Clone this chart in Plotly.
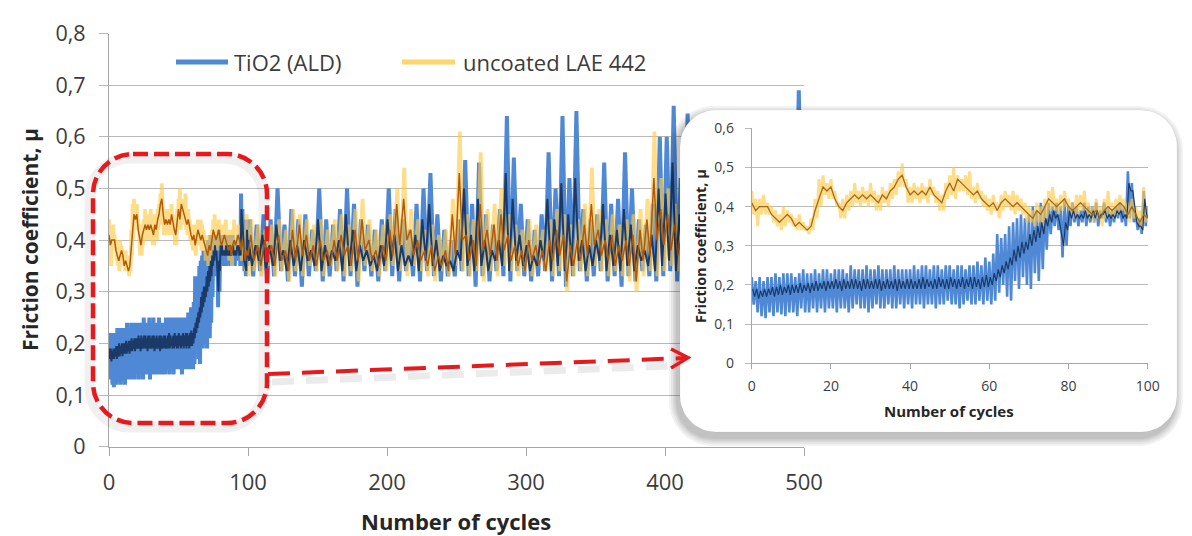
import numpy as np
import plotly.graph_objects as go

W, H = 1192, 536

# ---------------- data ----------------
# Segment A: cycles 0..100, one value per cycle (used by main chart and inset)
cycles_a = list(range(0, 101))
tio2_hi_a = [0.22,0.21,0.22,0.21,0.22,0.22,0.23,0.22,0.23,0.23,
             0.23,0.22,0.23,0.24,0.23,0.23,0.24,0.23,0.24,0.24,
             0.23,0.24,0.24,0.24,0.23,0.25,0.24,0.24,0.24,0.25,
             0.24,0.24,0.25,0.24,0.24,0.24,0.25,0.24,0.24,0.24,
             0.24,0.25,0.24,0.25,0.25,0.24,0.25,0.25,0.24,0.25,
             0.25,0.24,0.25,0.25,0.24,0.25,0.25,0.26,0.25,0.27,
             0.26,0.28,0.33,0.32,0.33,0.35,0.36,0.37,0.38,0.37,
             0.38,0.40,0.39,0.41,0.40,0.41,0.40,0.41,0.40,0.42,
             0.40,0.41,0.40,0.39,0.41,0.40,0.40,0.41,0.39,0.41,
             0.40,0.39,0.40,0.41,0.40,0.49,0.46,0.38,0.37,0.44,0.40]
tio2_lo_a = [0.15,0.13,0.12,0.115,0.13,0.12,0.13,0.125,0.12,0.13,
             0.13,0.12,0.14,0.13,0.13,0.14,0.13,0.14,0.13,0.14,
             0.14,0.13,0.14,0.14,0.13,0.14,0.15,0.14,0.14,0.13,
             0.14,0.15,0.14,0.14,0.15,0.14,0.14,0.15,0.14,0.15,
             0.14,0.15,0.15,0.14,0.15,0.15,0.14,0.15,0.15,0.16,
             0.15,0.15,0.14,0.15,0.16,0.15,0.15,0.16,0.15,0.16,
             0.15,0.16,0.18,0.20,0.17,0.16,0.21,0.19,0.22,0.20,
             0.19,0.23,0.21,0.24,0.29,0.33,0.35,0.34,0.27,0.30,
             0.35,0.36,0.35,0.36,0.35,0.36,0.36,0.35,0.37,0.36,
             0.35,0.36,0.37,0.36,0.35,0.37,0.36,0.34,0.33,0.35,0.36]
tio2_avg_hi_a = [0.19,0.19,0.185,0.19,0.19,0.195,0.195,0.20,0.195,0.20,
                 0.20,0.20,0.205,0.20,0.205,0.205,0.21,0.205,0.21,0.21,
                 0.21,0.215,0.21,0.215,0.21,0.215,0.215,0.21,0.215,0.215,
                 0.21,0.215,0.215,0.21,0.215,0.21,0.215,0.215,0.21,0.215,
                 0.215,0.21,0.215,0.22,0.215,0.21,0.215,0.22,0.215,0.215,
                 0.22,0.215,0.215,0.22,0.215,0.22,0.22,0.215,0.22,0.225,
                 0.22,0.23,0.24,0.25,0.26,0.27,0.29,0.30,0.31,0.31,
                 0.33,0.34,0.35,0.36,0.37,0.38,0.39,0.38,0.33,0.36,
                 0.39,0.39,0.38,0.38,0.39,0.38,0.39,0.39,0.38,0.39,
                 0.38,0.38,0.39,0.39,0.38,0.46,0.44,0.36,0.35,0.42,0.37]
tio2_avg_lo_a = [0.17,0.165,0.17,0.17,0.175,0.17,0.175,0.175,0.18,0.175,
                 0.18,0.18,0.18,0.185,0.18,0.185,0.185,0.19,0.185,0.19,
                 0.19,0.19,0.185,0.19,0.19,0.19,0.19,0.185,0.19,0.19,
                 0.19,0.19,0.185,0.19,0.19,0.19,0.185,0.19,0.19,0.19,
                 0.19,0.19,0.19,0.19,0.195,0.19,0.19,0.195,0.19,0.19,
                 0.195,0.19,0.195,0.19,0.195,0.19,0.195,0.19,0.195,0.195,
                 0.20,0.21,0.22,0.23,0.24,0.25,0.26,0.27,0.28,0.29,
                 0.30,0.31,0.32,0.33,0.35,0.36,0.37,0.36,0.30,0.34,
                 0.37,0.37,0.37,0.37,0.37,0.37,0.37,0.37,0.38,0.37,
                 0.37,0.37,0.38,0.37,0.37,0.44,0.40,0.35,0.34,0.38,0.36]
lae_hi_a = [0.44,0.42,0.42,0.43,0.41,0.40,0.39,0.38,0.40,0.39,
            0.38,0.37,0.38,0.36,0.35,0.37,0.42,0.47,0.48,0.46,
            0.47,0.44,0.41,0.42,0.43,0.44,0.46,0.44,0.45,0.44,
            0.46,0.44,0.43,0.45,0.44,0.46,0.47,0.49,0.51,0.47,
            0.45,0.46,0.45,0.46,0.45,0.47,0.45,0.44,0.43,0.46,
            0.48,0.50,0.48,0.47,0.48,0.49,0.45,0.46,0.44,0.43,
            0.42,0.43,0.41,0.43,0.44,0.43,0.44,0.43,0.42,0.41,
            0.40,0.39,0.41,0.40,0.42,0.44,0.45,0.42,0.43,0.44,
            0.42,0.41,0.43,0.43,0.44,0.41,0.40,0.42,0.40,0.42,
            0.44,0.41,0.42,0.43,0.42,0.41,0.42,0.40,0.39,0.45,0.40]
lae_lo_a = [0.38,0.35,0.38,0.38,0.38,0.36,0.35,0.34,0.35,0.36,
            0.35,0.34,0.34,0.34,0.33,0.34,0.37,0.40,0.43,0.42,
            0.42,0.40,0.37,0.37,0.39,0.40,0.41,0.40,0.41,0.40,
            0.41,0.39,0.39,0.41,0.40,0.42,0.43,0.45,0.45,0.41,
            0.41,0.42,0.41,0.42,0.41,0.43,0.41,0.39,0.39,0.42,
            0.43,0.42,0.44,0.44,0.43,0.42,0.41,0.42,0.40,0.39,
            0.38,0.39,0.37,0.39,0.40,0.39,0.38,0.39,0.38,0.36,
            0.36,0.35,0.36,0.35,0.37,0.39,0.39,0.38,0.39,0.40,
            0.38,0.37,0.38,0.39,0.38,0.37,0.36,0.37,0.35,0.37,
            0.38,0.37,0.38,0.39,0.38,0.36,0.37,0.36,0.34,0.36,0.33]
lae_avg_a = [0.41,0.39,0.40,0.40,0.40,0.38,0.37,0.36,0.37,0.38,
             0.37,0.35,0.36,0.35,0.34,0.35,0.39,0.42,0.45,0.44,
             0.45,0.42,0.40,0.39,0.41,0.42,0.43,0.42,0.43,0.42,
             0.43,0.42,0.41,0.43,0.42,0.44,0.45,0.47,0.48,0.45,
             0.43,0.44,0.43,0.44,0.43,0.45,0.43,0.42,0.41,0.44,
             0.46,0.44,0.47,0.46,0.45,0.44,0.43,0.44,0.42,0.41,
             0.40,0.41,0.39,0.41,0.42,0.41,0.40,0.41,0.40,0.39,
             0.38,0.37,0.39,0.38,0.40,0.42,0.41,0.40,0.41,0.42,
             0.40,0.39,0.40,0.41,0.40,0.39,0.38,0.39,0.37,0.39,
             0.40,0.39,0.40,0.41,0.40,0.38,0.40,0.38,0.36,0.38,0.37]

# Segment B: cycles 100..500 in 5-cycle bins (max / min inside each bin)
bins_b = list(range(100, 500, 5))
tio2_hi_b = [0.44,0.43,0.45,0.44,0.50,0.43,0.46,0.44,0.45,0.42,
             0.50,0.44,0.43,0.46,0.50,0.47,0.44,0.43,0.42,0.44,
             0.50,0.46,0.44,0.42,0.47,0.50,0.53,0.45,0.42,0.40,
             0.44,0.555,0.47,0.55,0.45,0.43,0.46,0.64,0.56,0.47,
             0.44,0.42,0.45,0.57,0.50,0.64,0.52,0.65,0.46,0.44,
             0.45,0.55,0.47,0.48,0.57,0.50,0.44,0.43,0.47,0.60,
             0.60,0.66,0.52,0.645,0.50,0.48,0.52,0.47,0.50,0.46,
             0.55,0.48,0.47,0.52,0.46,0.50,0.47,0.45,0.50,0.69]
tio2_lo_b = [0.33,0.34,0.32,0.33,0.34,0.32,0.33,0.31,0.33,0.34,
             0.32,0.33,0.34,0.32,0.33,0.31,0.34,0.33,0.32,0.34,
             0.33,0.32,0.34,0.33,0.32,0.34,0.33,0.32,0.33,0.33,
             0.34,0.33,0.31,0.33,0.32,0.34,0.33,0.32,0.34,0.33,
             0.32,0.33,0.34,0.32,0.33,0.31,0.33,0.34,0.32,0.33,
             0.34,0.32,0.33,0.31,0.33,0.32,0.34,0.33,0.32,0.33,
             0.34,0.32,0.33,0.33,0.32,0.34,0.33,0.32,0.33,0.34,
             0.32,0.33,0.34,0.32,0.33,0.33,0.32,0.34,0.33,0.32]
tio2_avg_hi_b = [0.40,0.39,0.41,0.39,0.43,0.38,0.40,0.39,0.40,0.38,
                 0.44,0.39,0.38,0.40,0.45,0.42,0.39,0.38,0.37,0.39,
                 0.44,0.41,0.39,0.37,0.41,0.44,0.47,0.40,0.37,0.36,
                 0.38,0.50,0.41,0.48,0.40,0.38,0.40,0.53,0.48,0.41,
                 0.39,0.37,0.40,0.48,0.44,0.51,0.45,0.52,0.40,0.39,
                 0.40,0.47,0.41,0.42,0.46,0.43,0.39,0.38,0.41,0.50,
                 0.49,0.55,0.45,0.52,0.44,0.42,0.45,0.41,0.43,0.40,
                 0.46,0.42,0.41,0.44,0.40,0.43,0.41,0.40,0.43,0.55]
tio2_avg_lo_b = [0.35,0.36,0.34,0.35,0.36,0.34,0.35,0.34,0.36,0.35,
                 0.34,0.35,0.36,0.34,0.35,0.34,0.36,0.35,0.34,0.35,
                 0.36,0.34,0.35,0.35,0.34,0.36,0.35,0.34,0.35,0.34,
                 0.36,0.35,0.34,0.35,0.34,0.36,0.35,0.34,0.36,0.35,
                 0.34,0.35,0.36,0.34,0.35,0.34,0.35,0.36,0.34,0.35,
                 0.36,0.34,0.35,0.34,0.35,0.34,0.36,0.35,0.34,0.35,
                 0.36,0.34,0.35,0.35,0.34,0.36,0.35,0.34,0.35,0.36,
                 0.34,0.35,0.36,0.34,0.35,0.35,0.34,0.36,0.35,0.34]
lae_hi_b = [0.44,0.43,0.42,0.43,0.44,0.42,0.46,0.45,0.44,0.43,
            0.44,0.42,0.44,0.45,0.43,0.46,0.48,0.44,0.42,0.43,
            0.45,0.50,0.54,0.46,0.44,0.42,0.43,0.41,0.42,0.48,
            0.61,0.45,0.44,0.57,0.46,0.47,0.50,0.45,0.43,0.42,
            0.44,0.43,0.42,0.44,0.46,0.45,0.43,0.44,0.47,0.54,
            0.46,0.44,0.45,0.43,0.44,0.45,0.46,0.48,0.61,0.52,
            0.50,0.47,0.45,0.46,0.44,0.47,0.45,0.44,0.46,0.45,
            0.44,0.47,0.45,0.44,0.46,0.45,0.44,0.46,0.45,0.44]
lae_lo_b = [0.34,0.33,0.35,0.33,0.34,0.32,0.34,0.33,0.35,0.34,
            0.33,0.35,0.34,0.33,0.34,0.32,0.35,0.34,0.33,0.34,
            0.35,0.34,0.33,0.35,0.34,0.33,0.32,0.34,0.33,0.35,
            0.34,0.33,0.34,0.32,0.34,0.33,0.35,0.34,0.33,0.34,
            0.33,0.35,0.34,0.33,0.34,0.30,0.33,0.34,0.33,0.35,
            0.34,0.33,0.34,0.33,0.32,0.30,0.33,0.34,0.33,0.34,
            0.35,0.34,0.33,0.34,0.33,0.35,0.34,0.33,0.34,0.33,
            0.35,0.34,0.33,0.34,0.33,0.34,0.35,0.33,0.34,0.33]
lae_avg_hi_b = [0.41,0.39,0.40,0.39,0.41,0.38,0.42,0.43,0.41,0.39,
                0.40,0.38,0.40,0.41,0.39,0.42,0.44,0.40,0.38,0.39,
                0.42,0.47,0.48,0.42,0.40,0.38,0.39,0.37,0.38,0.45,
                0.53,0.41,0.40,0.47,0.42,0.43,0.45,0.41,0.39,0.38,
                0.40,0.39,0.38,0.40,0.42,0.41,0.39,0.40,0.43,0.47,
                0.42,0.40,0.41,0.39,0.40,0.41,0.42,0.44,0.52,0.46,
                0.45,0.43,0.41,0.42,0.40,0.43,0.41,0.40,0.42,0.41,
                0.40,0.43,0.41,0.40,0.42,0.41,0.40,0.42,0.41,0.40]
lae_avg_lo_b = [0.36,0.35,0.37,0.35,0.36,0.34,0.36,0.37,0.36,0.35,
                0.36,0.35,0.36,0.37,0.35,0.36,0.38,0.36,0.35,0.36,
                0.37,0.39,0.40,0.37,0.36,0.35,0.34,0.35,0.34,0.37,
                0.40,0.36,0.35,0.38,0.37,0.36,0.38,0.36,0.35,0.34,
                0.36,0.35,0.34,0.36,0.37,0.32,0.35,0.36,0.37,0.39,
                0.37,0.36,0.35,0.36,0.35,0.32,0.36,0.37,0.40,0.39,
                0.38,0.37,0.36,0.37,0.36,0.37,0.36,0.35,0.36,0.37,
                0.36,0.37,0.36,0.35,0.37,0.36,0.35,0.36,0.37,0.36]

main_xticks = [0, 100, 200, 300, 400, 500]
inset_xticks = [0, 20, 40, 60, 80, 100]
series_names = ["TiO2 (ALD)", "uncoated LAE 442"]

# ---------------- styling ----------------
BLUE = "#4f88d4"
DARK = "#1b3a68"
YEL = "rgba(255,202,75,0.66)"
YEL_LEG = "rgb(255,214,110)"
BROWN = "#b25a08"
BROWN_IN = "#a4691c"
GRID = "#b9b9b9"
AXC = "#a6a6a6"
TXT = "#3c3c3c"
FONT = "Open Sans"
RED = "#e8191c"


def zigzag(xs, his, los, off_hi, off_lo):
    x, y = [], []
    for c, h, l in zip(xs, his, los):
        x += [c + off_hi, c + off_lo]
        y += [h, l]
    return x, y


xa_raw, ya_raw = zigzag(cycles_a, tio2_hi_a, tio2_lo_a, 0.0, 0.5)
xb_raw, yb_raw = zigzag(bins_b, tio2_hi_b, tio2_lo_b, 1.25, 3.75)
xa_avg, ya_avg = zigzag(cycles_a, tio2_avg_hi_a, tio2_avg_lo_a, 0.25, 0.75)
xb_avg, yb_avg = zigzag(bins_b, tio2_avg_hi_b, tio2_avg_lo_b, 0.4, 2.9)
xa_lae, ya_lae = zigzag(cycles_a, lae_hi_a, lae_lo_a, 0.0, 0.5)
xb_lae, yb_lae = zigzag(bins_b, lae_hi_b, lae_lo_b, 2.4, 4.6)
xb_lav, yb_lav = zigzag(bins_b, lae_avg_hi_b, lae_avg_lo_b, 2.0, 4.2)

fig = go.Figure()

# ---- main chart ----
fig.add_trace(go.Scatter(x=xa_raw + xb_raw, y=ya_raw + yb_raw, mode="lines",
                         line=dict(color=BLUE, width=4.0), name=series_names[0],
                         xaxis="x", yaxis="y", showlegend=False))
fig.add_trace(go.Scatter(x=xa_lae + xb_lae, y=ya_lae + yb_lae, mode="lines",
                         line=dict(color=YEL, width=3.8), name=series_names[1],
                         xaxis="x", yaxis="y", showlegend=False))
fig.add_trace(go.Scatter(x=xa_avg + xb_avg, y=ya_avg + yb_avg, mode="lines",
                         line=dict(color=DARK, width=2.0), xaxis="x", yaxis="y",
                         showlegend=False))
fig.add_trace(go.Scatter(x=cycles_a + xb_lav, y=lae_avg_a + yb_lav, mode="lines",
                         line=dict(color=BROWN, width=1.5), xaxis="x", yaxis="y",
                         showlegend=False))


# ---- inset box (white rounded panel with shadow), drawn in pixel space ----
def rounded_rect(x0, y0, x1, y1, r, n=14):
    xs, ys = [], []
    corners = [(x1 - r, y0 + r, -90, 0), (x1 - r, y1 - r, 0, 90),
               (x0 + r, y1 - r, 90, 180), (x0 + r, y0 + r, 180, 270)]
    for cx, cy, a0, a1 in corners:
        for t in np.linspace(np.radians(a0), np.radians(a1), n):
            xs.append(cx + r * np.cos(t))
            ys.append(cy + r * np.sin(t))
    xs.append(xs[0]); ys.append(ys[0])
    return xs, ys


BX0, BY0, BX1, BY1, BR = 680, 110, 1177, 432, 36
for grow in [8, 6, 4, 2.5, 1]:
    sx, sy = rounded_rect(BX0 - 3 - grow, BY0 + 4 - grow, BX1 - 2 + grow, BY1 + 6 + grow, BR + grow)
    fig.add_trace(go.Scatter(x=sx, y=sy, mode="lines", fill="toself",
                             fillcolor="rgba(0,0,0,0.05)", line=dict(width=0),
                             xaxis="x2", yaxis="y2", showlegend=False, hoverinfo="skip"))
bx, by = rounded_rect(BX0, BY0, BX1, BY1, BR)
fig.add_trace(go.Scatter(x=bx, y=by, mode="lines", fill="toself", fillcolor="white",
                         line=dict(width=0.8, color="rgba(0,0,0,0.05)"),
                         xaxis="x2", yaxis="y2", showlegend=False, hoverinfo="skip"))

# ---- inset chart ----
fig.add_trace(go.Scatter(x=xa_raw, y=ya_raw, mode="lines", line=dict(color=BLUE, width=2.6),
                         xaxis="x3", yaxis="y3", showlegend=False))
fig.add_trace(go.Scatter(x=xa_lae, y=ya_lae, mode="lines", line=dict(color=YEL, width=3.0),
                         xaxis="x3", yaxis="y3", showlegend=False))
fig.add_trace(go.Scatter(x=xa_avg, y=ya_avg, mode="lines", line=dict(color=DARK, width=1.2),
                         xaxis="x3", yaxis="y3", showlegend=False))
fig.add_trace(go.Scatter(x=cycles_a, y=lae_avg_a, mode="lines", line=dict(color=BROWN_IN, width=1.3),
                         xaxis="x3", yaxis="y3", showlegend=False))


def PX(x):
    return x / W


def PY(y):
    return 1 - y / H


def P(x, y):
    return f"{x / W:.5f},{1 - y / H:.5f}"


def rr_path(x0, y0, x1, y1, r):
    k = 0.5523 * r
    return (f"M {P(x0 + r, y0)} L {P(x1 - r, y0)} C {P(x1 - r + k, y0)} {P(x1, y0 + r - k)} {P(x1, y0 + r)} "
            f"L {P(x1, y1 - r)} C {P(x1, y1 - r + k)} {P(x1 - r + k, y1)} {P(x1 - r, y1)} "
            f"L {P(x0 + r, y1)} C {P(x0 + r - k, y1)} {P(x0, y1 - r + k)} {P(x0, y1 - r)} "
            f"L {P(x0, y0 + r)} C {P(x0, y0 + r - k)} {P(x0 + r - k, y0)} {P(x0 + r, y0)} Z")


shapes = []
# legend samples
shapes.append(dict(type="line", xref="paper", yref="paper", x0=PX(176), x1=PX(228), y0=PY(62), y1=PY(62),
                   line=dict(color=BLUE, width=4.8), layer="above"))
shapes.append(dict(type="line", xref="paper", yref="paper", x0=PX(402), x1=PX(455), y0=PY(62), y1=PY(62),
                   line=dict(color=YEL_LEG, width=4.8), layer="above"))
# red dashed highlight with soft shadow
shapes.append(dict(type="path", xref="paper", yref="paper", path=rr_path(90, 158, 264, 427, 40),
                   line=dict(color="rgba(0,0,0,0.06)", width=11), layer="above"))
shapes.append(dict(type="path", xref="paper", yref="paper", path=rr_path(93, 154, 267, 423, 40),
                   line=dict(color=RED, width=4.5, dash="15px,6px"), layer="above"))
# arrow shadow, shaft and head
shapes.append(dict(type="line", xref="paper", yref="paper", x0=PX(272), y0=PY(382), x1=PX(668), y1=PY(366),
                   line=dict(color="rgba(0,0,0,0.08)", width=7, dash="22px,12px"), layer="above"))
shapes.append(dict(type="line", xref="paper", yref="paper", x0=PX(268), y0=PY(374), x1=PX(686), y1=PY(358),
                   line=dict(color=RED, width=4, dash="22px,12px"), layer="above"))
shapes.append(dict(type="path", xref="paper", yref="paper",
                   path=f"M {P(671, 349)} L {P(688, 357.7)} L {P(671, 368)}",
                   line=dict(color=RED, width=3.5), layer="above"))

annotations = [
    dict(text=series_names[0], x=PX(232), y=PY(62), xref="paper", yref="paper", xanchor="left",
         yanchor="middle", showarrow=False, font=dict(family=FONT, size=22, color=TXT)),
    dict(text=series_names[1], x=PX(461), y=PY(62), xref="paper", yref="paper", xanchor="left",
         yanchor="middle", showarrow=False, font=dict(family=FONT, size=22, color=TXT)),
    dict(text="Number of cycles", x=PX(456), y=PY(521), xref="paper", yref="paper", xanchor="center",
         yanchor="middle", showarrow=False, font=dict(family=FONT, size=22, color="#262626", weight=700)),
    dict(text="Friction coefficient, µ", x=PX(30), y=PY(240), xref="paper", yref="paper", xanchor="center",
         yanchor="middle", textangle=-90, showarrow=False,
         font=dict(family=FONT, size=21, color="#262626", weight=700)),
    dict(text="Number of cycles", x=PX(949), y=PY(411), xref="paper", yref="paper", xanchor="center",
         yanchor="middle", showarrow=False, font=dict(family=FONT, size=15, color="#262626", weight=700)),
    dict(text="Friction coefficient, µ", x=PX(701), y=PY(246), xref="paper", yref="paper", xanchor="center",
         yanchor="middle", textangle=-90, showarrow=False,
         font=dict(family=FONT, size=14.5, color="#262626", weight=700)),
]

common = dict(automargin=False, zeroline=False)
fig.update_layout(
    width=W, height=H, margin=dict(l=0, r=0, t=0, b=0, pad=0, autoexpand=False), autosize=False,
    paper_bgcolor="white", plot_bgcolor="rgba(0,0,0,0)",
    separators=", ", showlegend=False, hovermode=False,
    font=dict(family=FONT, color=TXT),
    shapes=shapes, annotations=annotations,
    xaxis=dict(domain=[PX(109), PX(804)], range=[0, 500], tickvals=main_xticks,
               showgrid=False, showline=True, linecolor=AXC, linewidth=1.3,
               ticks="outside", ticklen=8, tickcolor=AXC, tickwidth=1.3,
               tickfont=dict(family=FONT, size=22, color=TXT), ticklabelstandoff=8, anchor="y", **common),
    yaxis=dict(domain=[PY(446.7), PY(33.5)], range=[0, 0.8], dtick=0.1, tick0=0,
               showgrid=True, gridcolor=GRID, gridwidth=1.3,
               showline=True, linecolor=AXC, linewidth=1.3,
               ticks="outside", ticklen=9, tickcolor=GRID, tickwidth=1.3,
               tickfont=dict(family=FONT, size=21.5, color=TXT), ticklabelstandoff=9, anchor="x", **common),
    xaxis2=dict(domain=[PX(660), 1.0], range=[660, 1192], visible=False, anchor="y2", **common),
    yaxis2=dict(domain=[PY(452), PY(95)], range=[452, 95], visible=False, anchor="x2", **common),
    xaxis3=dict(domain=[PX(751.7), PX(1147.7)], range=[0, 100], tickvals=inset_xticks,
                showgrid=False, showline=True, linecolor=AXC, linewidth=1,
                ticks="outside", ticklen=5, tickcolor=AXC, tickwidth=1,
                tickfont=dict(family=FONT, size=14, color=TXT), ticklabelstandoff=5, anchor="y3", **common),
    yaxis3=dict(domain=[PY(363.3), PY(128.3)], range=[0, 0.6], dtick=0.1, tick0=0,
                showgrid=True, gridcolor=GRID, gridwidth=1,
                showline=True, linecolor=AXC, linewidth=1,
                ticks="outside", ticklen=6, tickcolor=GRID, tickwidth=1,
                tickfont=dict(family=FONT, size=14, color=TXT), ticklabelstandoff=8, anchor="x3", **common),
)

fig.write_html("out.html", config={"displayModeBar": False, "responsive": False},
               post_script="document.body.style.margin='0px';")
